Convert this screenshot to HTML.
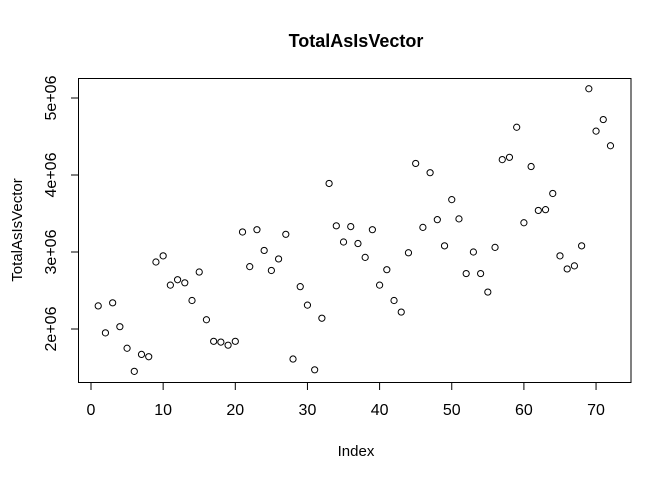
<!DOCTYPE html>
<html><head><meta charset="utf-8"><style>
body{margin:0;background:#fff}
svg{display:block;font-family:"Liberation Sans",Arial,sans-serif}
</style></head><body>
<svg id="c" width="672" height="480" viewBox="0 0 672 480">
<text x="356" y="47" text-anchor="middle" font-size="18" font-weight="bold">TotalAsIsVector</text>
<rect x="78.5" y="78.5" width="552.5" height="304" fill="none" stroke="#000"/>
<text x="356" y="456" text-anchor="middle" font-size="15">Index</text>
<text transform="translate(22,230) rotate(-90)" text-anchor="middle" font-size="15">TotalAsIsVector</text>
<g id="xa"></g>
<g id="ya"></g>
<g id="pts"></g>
</svg>
<script>
const values=[2.30,1.95,2.34,2.03,1.75,1.45,1.67,1.64,2.87,2.95,2.57,2.64,2.60,2.37,2.74,2.12,1.84,1.83,1.79,1.84,3.26,2.81,3.29,3.02,2.76,2.91,3.23,1.61,2.55,2.31,1.47,2.14,3.89,3.34,3.13,3.33,3.11,2.93,3.29,2.57,2.77,2.37,2.22,2.99,4.15,3.32,4.03,3.42,3.08,3.68,3.43,2.72,3.00,2.72,2.48,3.06,4.20,4.23,4.62,3.38,4.11,3.54,3.55,3.76,2.95,2.78,2.82,3.08,5.12,4.57,4.72,4.38];
const xTicks=[0,10,20,30,40,50,60,70];
const yTicks=[2,3,4,5];
const yTickLabels=["2e+06","3e+06","4e+06","5e+06"];
const NS="http://www.w3.org/2000/svg";
function xs(i){return 91+i*7.215;}
function ys(v){return 329-(v-2)*77;}
function mk(t,a,p){const e=document.createElementNS(NS,t);for(const k in a)e.setAttribute(k,a[k]);p.appendChild(e);return e;}
const xa=document.getElementById('xa'),ya=document.getElementById('ya'),pts=document.getElementById('pts');
mk('line',{x1:xs(0),x2:xs(70),y1:382.5,y2:382.5,stroke:'#000'},xa);
xTicks.forEach(t=>{
  const l=mk('line',{x1:xs(t),x2:xs(t),y1:382.5,y2:390,stroke:'#000'},xa);
  
  
  const tx=mk('text',{x:xs(t),y:415,'text-anchor':'middle','font-size':'16'},xa);
  tx.textContent=t;
  
  
});
mk('line',{x1:78.5,x2:78.5,y1:ys(2),y2:ys(5),stroke:'#000'},ya);
yTicks.forEach((t,i)=>{
  const l=mk('line',{x1:71,x2:78.5,y1:ys(t),y2:ys(t),stroke:'#000'},ya);
  
  
  const tx=mk('text',{transform:`translate(56,${ys(t)}) rotate(-90)`,'text-anchor':'middle','font-size':'16'},ya);
  tx.textContent=yTickLabels[i];
  
  
});
values.forEach((v,i)=>{
  const c=mk('circle',{cx:xs(i+1),cy:ys(v),r:3.1,fill:'none',stroke:'#000','stroke-width':1},pts);
  
  
});
</script>
</body></html>
